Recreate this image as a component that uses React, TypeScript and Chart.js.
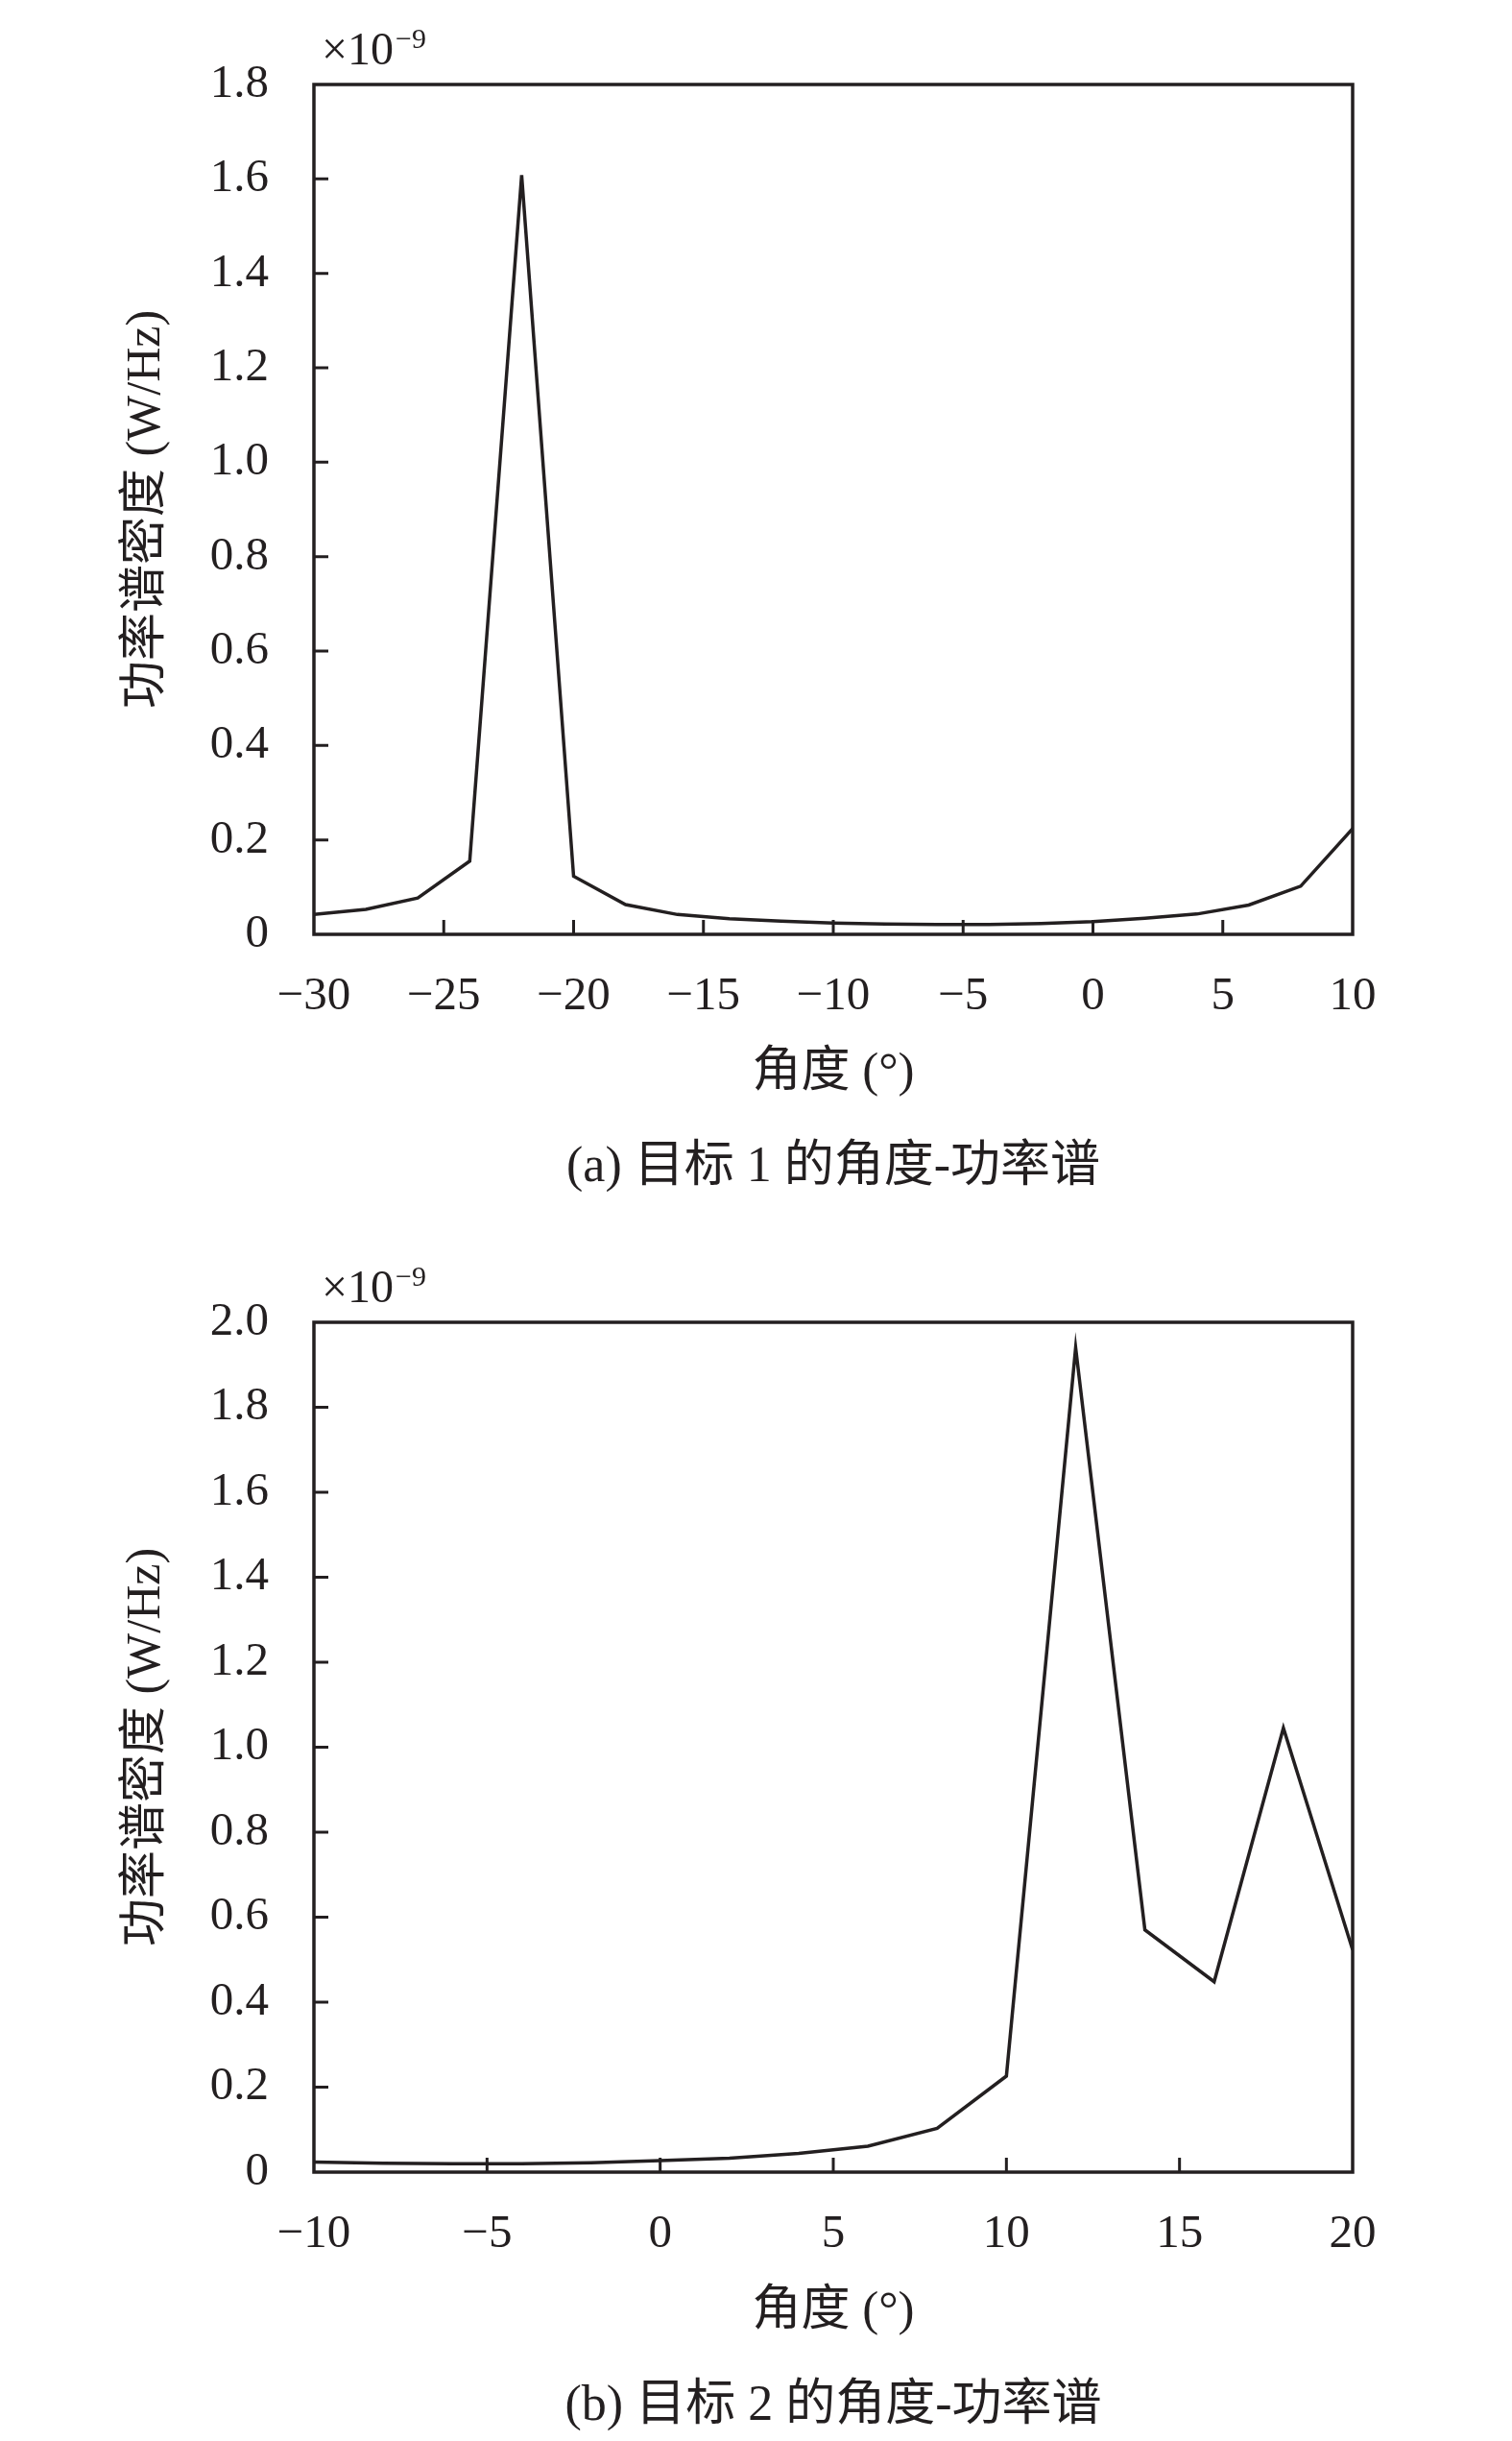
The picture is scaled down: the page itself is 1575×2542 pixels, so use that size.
import { useEffect, useRef } from "react";
import { Chart, registerables } from "chart.js";

Chart.register(...registerables);

// angle (deg) and power spectral density (x1e-9 W/Hz)
const anglesA = [-30, -28, -26, -24, -22, -20, -18, -16, -14, -12, -10, -8, -6, -4, -2, 0, 2, 4, 6, 8, 10];
const psdA = [0.042, 0.053, 0.077, 0.155, 1.608, 0.123, 0.063, 0.042, 0.033, 0.028, 0.024, 0.022, 0.021, 0.021, 0.023, 0.027, 0.034, 0.043, 0.062, 0.102, 0.224];

const anglesB = [-10, -8, -6, -4, -2, 0, 2, 4, 6, 8, 10, 12, 14, 16, 18, 20];
const psdB = [0.024, 0.021, 0.02, 0.02, 0.022, 0.027, 0.033, 0.044, 0.061, 0.103, 0.226, 1.94, 0.57, 0.448, 1.045, 0.523];

const captions = ["(a) 目标 1 的角度-功率谱", "(b) 目标 2 的角度-功率谱"];
const yTitle = "功率谱密度 (W/Hz)";
const xTitle = "角度 (°)";

const INK = "#231f20";
const FAMILY = '"Liberation Serif", "Noto Sans CJK SC", serif';

const CANVAS_W = 1575;
const CANVAS_H = 1170;

// box, inward ticks and the x10^-9 factor
const framePlugin = {
  id: "frame",
  afterDraw(chart: any) {
    const { ctx, chartArea } = chart;
    const { left, right, top, bottom } = chartArea;
    const xs = chart.scales.x;
    const ys = chart.scales.y;
    ctx.save();
    ctx.strokeStyle = INK;
    ctx.lineWidth = 3.5;
    ctx.strokeRect(left, top, right - left, bottom - top);

    ctx.lineWidth = 3;
    ctx.beginPath();
    xs.ticks.forEach((t: any) => {
      const px = xs.getPixelForValue(t.value);
      if (px > left + 2 && px < right - 2) {
        ctx.moveTo(px, bottom);
        ctx.lineTo(px, bottom - 15);
      }
    });
    ys.ticks.forEach((t: any) => {
      const py = ys.getPixelForValue(t.value);
      if (py > top + 2 && py < bottom - 2) {
        ctx.moveTo(left, py);
        ctx.lineTo(left + 15, py);
      }
    });
    ctx.stroke();

    ctx.fillStyle = INK;
    ctx.textAlign = "left";
    ctx.textBaseline = "alphabetic";
    ctx.font = `48px ${FAMILY}`;
    const base = top - 21;
    ctx.fillText("×10", left + 8, base);
    const w = ctx.measureText("×10").width;
    ctx.font = `30px ${FAMILY}`;
    ctx.fillText("−9", left + 10 + w, base - 17);
    ctx.restore();
  },
};

interface SpectrumProps {
  angles: number[];
  values: number[];
  xMin: number;
  xMax: number;
  yMax: number;
  top: number;
  padTop: number;
}

function SpectrumChart({ angles, values, xMin, xMax, yMax, top, padTop }: SpectrumProps) {
  const canvasRef = useRef<HTMLCanvasElement>(null);
  const chartRef = useRef<Chart | null>(null);

  useEffect(() => {
    if (!canvasRef.current) return;
    const ctx = canvasRef.current.getContext("2d");
    if (!ctx) return;

    if (chartRef.current) chartRef.current.destroy();

    chartRef.current = new Chart(ctx, {
      type: "line",
      data: {
        datasets: [
          {
            data: angles.map((a, i) => ({ x: a, y: values[i] })),
            borderColor: INK,
            borderWidth: 3.5,
            pointRadius: 0,
            tension: 0,
            fill: false,
          },
        ],
      },
      options: {
        responsive: false,
        animation: false,
        devicePixelRatio: 1,
        layout: { padding: { top: padTop, right: 166, bottom: 0, left: 0 } },
        plugins: {
          legend: { display: false },
          tooltip: { enabled: false },
        },
        scales: {
          x: {
            type: "linear",
            min: xMin,
            max: xMax,
            grid: { display: false, drawTicks: false },
            border: { display: false },
            ticks: {
              stepSize: 5,
              padding: 36,
              color: INK,
              maxRotation: 0,
              font: { family: FAMILY, size: 49 },
              callback: (v: any) => (Number(v) < 0 ? "−" + Math.abs(Number(v)) : String(v)),
            },
            title: {
              display: true,
              text: xTitle,
              color: INK,
              font: { family: FAMILY, size: 51 },
              padding: { top: 0, bottom: 22 },
            },
            afterFit: (s: any) => {
              s.height = CANVAS_H - padTop - 885;
            },
          },
          y: {
            min: 0,
            max: yMax,
            grid: { display: false, drawTicks: false },
            border: { display: false },
            ticks: {
              stepSize: 0.2,
              padding: 47,
              color: INK,
              font: { family: FAMILY, size: 49 },
              callback: (v: any) => (Number(v) === 0 ? "0" : Number(v).toFixed(1)),
            },
            title: {
              display: true,
              text: yTitle,
              color: INK,
              font: { family: FAMILY, size: 50 },
              padding: { top: 123, bottom: 0 },
            },
            afterFit: (s: any) => {
              s.width = 327;
            },
          },
        },
      },
      plugins: [framePlugin],
    });

    return () => {
      if (chartRef.current) {
        chartRef.current.destroy();
        chartRef.current = null;
      }
    };
  }, [angles, values, xMin, xMax, yMax, padTop]);

  return (
    <canvas
      ref={canvasRef}
      width={CANVAS_W}
      height={CANVAS_H}
      style={{ position: "absolute", left: 0, top, width: CANVAS_W, height: CANVAS_H }}
    />
  );
}

const captionStyle = (top: number): React.CSSProperties => ({
  position: "absolute",
  left: 327,
  width: 1082,
  top,
  height: 60,
  lineHeight: "60px",
  textAlign: "center",
  fontFamily: FAMILY,
  fontSize: 52,
  color: INK,
  whiteSpace: "nowrap",
});

export default function App() {
  useEffect(() => {
    document.body.style.margin = "0";
  }, []);

  return (
    <div style={{ position: "relative", width: 1575, height: 2542, background: "#fff", overflow: "hidden" }}>
      <SpectrumChart angles={anglesA} values={psdA} xMin={-30} xMax={10} yMax={1.8} top={0} padTop={88} />
      <div style={captionStyle(1183)}>{captions[0]}</div>
      <SpectrumChart angles={anglesB} values={psdB} xMin={-10} xMax={20} yMax={2.0} top={1290} padTop={87} />
      <div style={captionStyle(2473)}>{captions[1]}</div>
    </div>
  );
}
